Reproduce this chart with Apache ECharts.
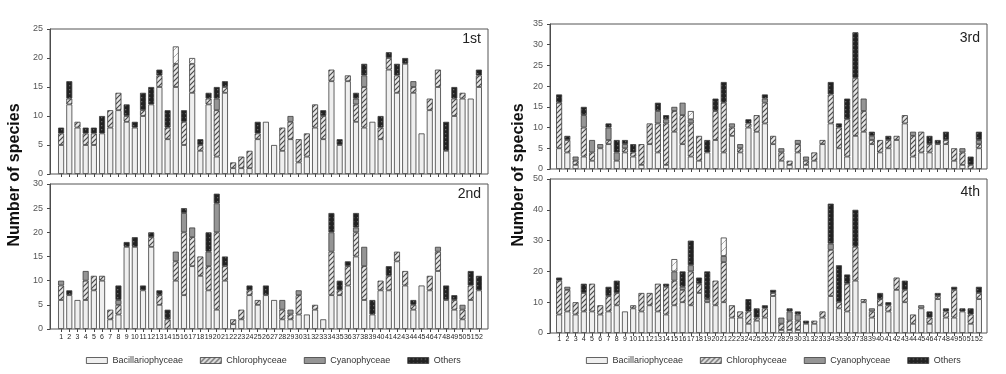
<!DOCTYPE html>
<html>
<head>
<meta charset="utf-8">
<script src="https://cdn.jsdelivr.net/npm/echarts@6/dist/echarts.min.js"></script>
<style>
html,body{margin:0;padding:0;background:#fff;}
#chart{width:1006px;height:374px;}
</style>
</head>
<body>
<div id="chart"></div>
<script>
// ---------- DATA ----------
const categories = ['1','2','3','4','5','6','7','8','9','10','11','12','13','14','15','16','17','18','19','20','21','22','23','24','25','26','27','28','29','30','31','32','33','34','35','36','37','38','39','40','41','42','43','44','45','46','47','48','49','50','51','52'];
const seriesNames = ['Bacillariophyceae','Chlorophyceae','Cyanophyceae','Others'];
const panelLabels = ['1st','2nd','3rd','4th'];
const yMax = [25, 30, 35, 50];
const yInterval = [5, 5, 5, 10];

// 1st
const bac1 = [5,12,8,5,5,7,8,11,9,8, 10,12,15,6,15,5,14,4,12,3, 14,1,1,1,6,9,5,4,6,2, 3,8,6,16,5,16,9,8,9,6, 18,14,19,14,7,11,15,4,10,13, 13,15];
const chl1 = [2,1,1,2,2,0,3,3,1,0, 1,0,2,2,4,4,5,1,1,8, 1,1,2,3,1,0,0,4,3,4, 4,4,4,2,0,1,3,7,0,2, 2,3,0,1,0,2,3,0,3,1, 0,2];
const cya1 = [0,0,0,0,0,0,0,0,0,0, 0,0,0,0,0,0,0,0,0,2, 0,0,0,0,0,0,0,0,1,0, 0,0,0,0,0,0,1,2,0,0, 0,0,0,1,0,0,0,0,0,0, 0,0];
const oth1 = [1,3,0,1,1,3,0,0,2,1, 3,3,1,3,0,2,0,1,1,2, 1,0,0,0,2,0,0,0,0,0, 0,0,1,0,1,0,1,2,0,2, 1,2,1,0,0,0,0,5,2,0, 0,1];
const unk1 = [0,0,0,0,0,0,0,0,0,0, 0,0,0,0,3,0,1,0,0,0, 0,0,0,0,0,0,0,0,0,0, 0,0,0,0,0,0,0,0,0,0, 0,0,0,0,0,0,0,0,0,0, 0,0];

// 2nd
const bac2 = [6,7,6,6,8,10,2,3,17,17, 8,17,5,0,10,7,13,11,8,4, 10,1,2,7,5,7,6,2,2,3, 3,4,2,7,7,9,15,6,3,8, 8,14,9,4,9,8,12,6,4,2, 6,8];
const chl2 = [3,0,0,4,3,1,2,2,0,0, 0,2,2,2,4,13,6,4,5,16, 3,1,2,1,1,0,0,2,1,4, 0,1,0,9,1,4,5,7,0,2, 3,2,3,1,0,3,4,0,2,2, 3,0];
const cya2 = [1,0,0,2,0,0,0,1,0,0, 0,0,0,0,2,4,2,0,3,6, 0,0,0,0,0,0,0,2,1,1, 0,0,0,4,0,0,1,4,0,0, 0,0,0,0,0,0,1,0,0,1, 0,0];
const oth2 = [0,1,0,0,0,0,0,3,1,2, 1,1,1,2,0,1,0,0,4,2, 2,0,0,1,0,2,0,0,0,0, 0,0,0,4,2,1,3,0,3,0, 2,0,0,1,0,0,0,3,1,0, 3,3];
const unk2 = [0,0,0,0,0,0,0,0,0,0, 0,0,0,0,0,0,0,0,0,0, 0,0,0,0,0,0,0,0,0,0, 0,0,0,0,0,0,0,0,0,0, 0,0,0,0,0,0,0,0,0,0, 0,0];

// 3rd
const bac3 = [5,4,1,3,2,5,6,2,4,3, 1,6,4,1,9,6,3,2,4,7, 4,8,4,10,9,11,6,2,1,4, 1,2,6,11,5,3,8,9,6,4, 5,7,11,3,4,4,6,6,2,1, 0,5];
const chl3 = [11,3,1,7,2,0,1,0,1,1, 5,5,7,10,5,7,8,6,0,7, 12,2,1,1,4,5,2,2,1,2, 1,2,1,7,5,9,14,5,1,3, 2,1,2,5,5,2,0,1,3,3, 1,1];
const cya3 = [0,0,1,3,3,1,3,2,1,0, 0,0,3,1,1,3,1,0,0,0, 0,1,1,0,0,1,0,1,0,1, 1,0,0,0,0,0,0,3,1,0, 0,0,0,1,0,0,0,0,0,1, 0,1];
const oth3 = [2,1,0,2,0,0,1,3,1,2, 0,0,2,1,0,0,0,0,3,3, 5,0,0,1,0,1,0,0,0,0, 0,0,0,3,1,5,11,0,1,0, 1,0,0,0,0,2,1,2,0,0, 2,2];
const unk3 = [0,0,0,0,0,0,0,0,0,0, 0,0,0,0,0,0,2,0,0,0, 0,0,0,0,0,0,0,0,0,0, 0,0,0,0,0,0,0,0,0,0, 0,0,0,0,0,0,0,0,0,0, 0,0];

// 4th
const bac4 = [6,7,6,7,7,6,7,9,7,8, 7,9,7,6,9,10,9,13,10,9, 10,5,5,3,4,5,12,1,1,1, 3,3,5,12,8,7,17,10,5,9, 7,14,10,3,8,3,11,5,5,7, 3,11];
const chl4 = [11,7,4,6,9,3,5,4,0,1, 6,4,9,9,8,4,11,3,0,8, 13,4,2,4,1,3,1,2,3,3, 0,1,2,15,2,9,11,1,2,2, 2,4,4,3,0,2,1,2,9,0, 3,2];
const cya4 = [0,1,0,0,0,0,0,0,0,0, 0,0,0,0,3,1,2,0,1,0, 2,0,0,0,0,0,0,2,3,2, 0,0,0,2,0,0,0,0,1,0, 0,0,0,0,1,0,0,0,0,0, 0,0];
const oth4 = [1,0,0,3,0,0,3,4,0,0, 0,0,0,1,0,5,8,2,9,0, 0,0,0,4,3,1,1,0,1,1, 1,0,0,13,12,3,12,0,0,2, 1,0,3,0,0,2,1,1,1,1, 2,2];
const unk4 = [0,0,0,0,0,0,0,0,0,0, 0,0,0,0,4,0,0,0,0,0, 6,0,0,0,0,0,0,0,0,0, 0,0,0,0,0,0,0,0,0,0, 0,0,0,0,0,0,0,0,0,0, 0,0];

// ---------- PATTERNS ----------
function makeCanvas(w, h, draw){ const c = document.createElement('canvas'); c.width = w; c.height = h; draw(c.getContext('2d'), w, h); return c; }
const hatch = makeCanvas(5,5,(g,w,h)=>{ g.fillStyle='#e6e6e6'; g.fillRect(0,0,w,h); g.strokeStyle='#4a4a4a'; g.lineWidth=1.2;
  g.beginPath(); g.moveTo(-1,h+1); g.lineTo(w+1,-1); g.moveTo(-1,1); g.lineTo(1,-1); g.moveTo(w-1,h+1); g.lineTo(w+1,h-1); g.stroke(); });
const dots = makeCanvas(4,4,(g,w,h)=>{ g.fillStyle='#222'; g.fillRect(0,0,w,h); g.fillStyle='#666'; g.fillRect(1,1,1.3,1.3); });
const light = makeCanvas(7,7,(g,w,h)=>{ g.fillStyle='#fbfbfb'; g.fillRect(0,0,w,h); g.strokeStyle='#9a9a9a'; g.lineWidth=0.8;
  g.beginPath(); g.moveTo(-1,h+1); g.lineTo(w+1,-1); g.stroke(); });

const fills = ['#efefef', {image: hatch, repeat: 'repeat'}, '#959595', {image: dots, repeat: 'repeat'}, {image: light, repeat: 'repeat'}];

const panelData = [
  [bac1, chl1, cya1, oth1, unk1],
  [bac2, chl2, cya2, oth2, unk2],
  [bac3, chl3, cya3, oth3, unk3],
  [bac4, chl4, cya4, oth4, unk4]
];

// ---------- LAYOUT ----------
const dataGrids = [
  {left: 57, top: 29, width: 426, height: 145},
  {left: 57, top: 184, width: 426, height: 145},
  {left: 555, top: 24, width: 428, height: 145},
  {left: 555, top: 179, width: 428, height: 154}
];
const frameGrids = [
  {left: 50, top: 29, width: 438, height: 145},
  {left: 50, top: 184, width: 438, height: 145},
  {left: 550, top: 24, width: 437, height: 145},
  {left: 550, top: 179, width: 437, height: 154}
];
const xLabelMargin = [4, 5, 4, 3];

const grid = [], xAxis = [], yAxis = [], series = [];
dataGrids.forEach((g, i) => {
  grid.push(Object.assign({show: false}, g));
  xAxis.push({
    type: 'category', gridIndex: i, data: categories,
    axisLine: {show: false},
    axisTick: {show: true, alignWithLabel: true, length: 3, lineStyle: {color: '#444'}},
    axisLabel: {show: i === 1 || i === 3, interval: 0, hideOverlap: false, fontSize: 7,
      fontFamily: '"Liberation Sans", Arial, sans-serif', color: '#222', margin: xLabelMargin[i]},
    splitLine: {show: false}
  });
  yAxis.push({
    type: 'value', gridIndex: i, min: 0, max: yMax[i], interval: yInterval[i],
    offset: g.left - frameGrids[i].left,
    axisLine: {show: true, lineStyle: {color: '#444', width: 1}},
    axisTick: {show: true, length: 3, lineStyle: {color: '#444'}},
    axisLabel: {fontSize: 9, color: '#555', fontFamily: '"Liberation Sans", Arial, sans-serif', margin: 7},
    splitLine: {show: false}
  });
  panelData[i].forEach((arr, k) => {
    series.push({
      name: k < 4 ? seriesNames[k] : 'Unidentified',
      type: 'bar', stack: 'p' + i, xAxisIndex: i, yAxisIndex: i,
      barWidth: 6,
      data: arr.map(v => v === 0 ? '-' : v),
      itemStyle: {color: fills[k], borderColor: '#3c3c3c', borderWidth: 0.8},
      emphasis: {disabled: true}
    });
  });
});
frameGrids.forEach((g, i) => {
  grid.push(Object.assign({show: true, borderColor: '#555', borderWidth: 1, backgroundColor: 'transparent', z: 3}, g));
  xAxis.push({type: 'value', gridIndex: 4 + i, show: false, min: 0, max: 1});
  yAxis.push({type: 'value', gridIndex: 4 + i, show: false, min: 0, max: 1});
});

const legendCommon = {
  data: seriesNames, icon: 'rect', itemWidth: 21, itemHeight: 6, itemGap: 17,
  top: 351, selectedMode: false,
  textStyle: {fontSize: 9, color: '#333', fontFamily: '"Liberation Sans", Arial, sans-serif'},
  itemStyle: {borderColor: '#3c3c3c', borderWidth: 0.8}
};

const graphicTexts = [
  {x: 15, y: 175}, {x: 519, y: 175}
].map(p => ({type: 'text', x: p.x, y: p.y, rotation: Math.PI / 2,
  style: {text: 'Number of species', font: 'bold 16px "Liberation Sans", Arial, sans-serif', fill: '#111',
    textAlign: 'center', textVerticalAlign: 'middle'}}));
const labelPos = [{x: 481, y: 39}, {x: 481, y: 194}, {x: 980, y: 38}, {x: 980, y: 192}];
labelPos.forEach((p, i) => graphicTexts.push({type: 'text', x: p.x, y: p.y,
  style: {text: panelLabels[i], font: '14px "Liberation Sans", Arial, sans-serif', fill: '#222',
    textAlign: 'right', textVerticalAlign: 'middle'}}));

const chart = echarts.init(document.getElementById('chart'), null, {renderer: 'canvas'});
chart.setOption({
  animation: false,
  backgroundColor: '#fff',
  grid, xAxis, yAxis, series,
  legend: [Object.assign({left: 81}, legendCommon), Object.assign({left: 581}, legendCommon)],
  graphic: graphicTexts
});
</script>
</body>
</html>
